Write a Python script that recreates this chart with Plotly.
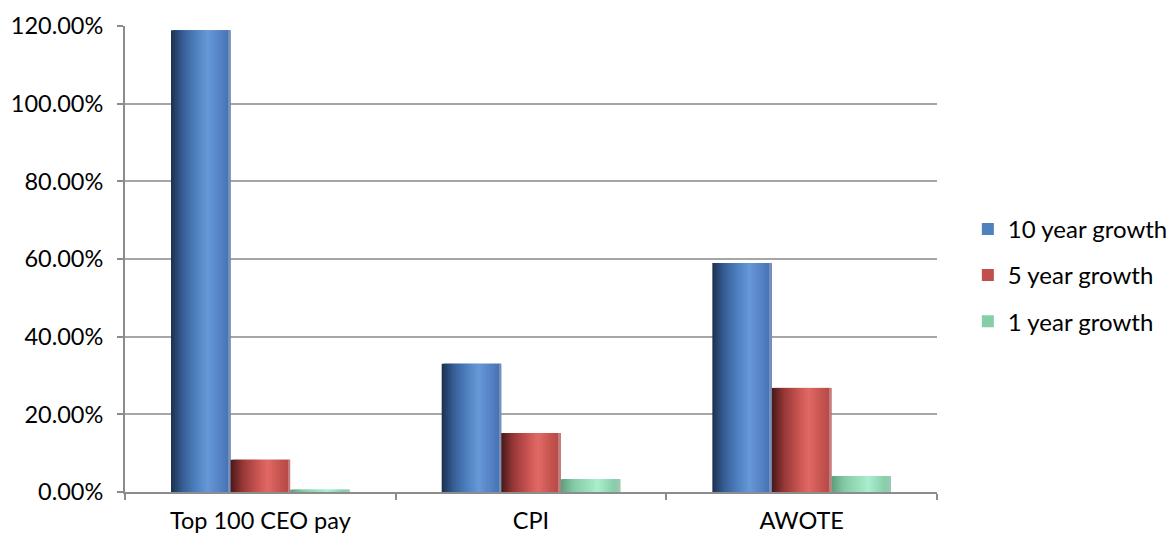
import plotly.graph_objects as go

categories = ["Top 100 CEO pay", "CPI", "AWOTE"]
series_names = ["10 year growth", "5 year growth", "1 year growth"]
growth_10yr = [118.9, 33.0, 59.0]
growth_5yr = [8.3, 15.2, 26.8]
growth_1yr = [0.6, 3.3, 4.1]
y_ticks = [0, 20, 40, 60, 80, 100, 120]
y_tick_labels = ["0.00%", "20.00%", "40.00%", "60.00%", "80.00%", "100.00%", "120.00%"]

series_values = [growth_10yr, growth_5yr, growth_1yr]
legend_colors = ["#4f81bd", "#c0504d", "#86cfa6"]
# gradient stops: (position, rgb) for cylinder-like shading
gradients = [
    [(0.0, (28, 48, 78)), (0.2, (55, 95, 150)), (0.45, (82, 132, 196)), (0.62, (103, 152, 215)),
     (0.85, (82, 128, 192)), (0.95, (72, 116, 182)), (1.0, (140, 158, 188))],
    [(0.0, (72, 24, 24)), (0.2, (150, 55, 55)), (0.45, (200, 85, 82)), (0.62, (225, 105, 100)),
     (0.85, (195, 82, 78)), (0.95, (185, 75, 72)), (1.0, (200, 150, 150))],
    [(0.0, (95, 155, 125)), (0.2, (130, 200, 165)), (0.62, (170, 238, 205)),
     (0.9, (135, 205, 170)), (1.0, (160, 200, 180))],
]


def interp(stops, t):
    for (p0, c0), (p1, c1) in zip(stops, stops[1:]):
        if p0 <= t <= p1:
            f = (t - p0) / (p1 - p0) if p1 > p0 else 0
            c = [round(a + (b - a) * f) for a, b in zip(c0, c1)]
            return "rgb(%d,%d,%d)" % tuple(c)
    return "rgb(%d,%d,%d)" % stops[-1][1]


fig = go.Figure()
group_width = 0.66
bar_w = group_width / 3
n_slices = 30
slice_w = bar_w / n_slices

for i, (name, vals) in enumerate(zip(series_names, series_values)):
    base_off = -group_width / 2 + i * bar_w
    bar_end = base_off + bar_w
    for j in range(n_slices):
        t = (j + 0.5) / n_slices
        off = base_off + j * slice_w
        w = min(slice_w * 2.5, bar_end - off)
        fig.add_trace(go.Bar(
            x=categories, y=vals,
            offset=off, width=w,
            marker=dict(color=interp(gradients[i], t), line=dict(width=0)),
            showlegend=False, hoverinfo="skip", legendgroup=name,
        ))
    # legend entry
    fig.add_trace(go.Bar(
        x=categories, y=[None] * len(categories), name=name,
        marker=dict(color=legend_colors[i], line=dict(width=0)),
        legendgroup=name, showlegend=True,
    ))

font_family = "Lato, Carlito, Calibri, sans-serif"
fig.update_layout(
    width=1176, height=537,
    margin=dict(l=125, r=239, t=26, b=45, autoexpand=False),
    barmode="overlay",
    plot_bgcolor="white", paper_bgcolor="white",
    font=dict(family=font_family, size=23.5, color="#000000"),
    legend=dict(
        x=1.038, y=0.465, xanchor="left", yanchor="middle",
        font=dict(family=font_family, size=24, color="#000000"),
        tracegroupgap=12, itemwidth=30,
        bgcolor="rgba(0,0,0,0)",
    ),
)
fig.update_xaxes(
    type="category", showgrid=False,
    showline=True, linecolor="#8c8c8c", linewidth=2,
    ticks="outside", ticklen=6, tickcolor="#8c8c8c", tickwidth=2,
    tickson="boundaries", ticklabelstandoff=7,
    tickfont=dict(family=font_family, size=23.5),
    range=[-0.5, 2.5],
)
fig.update_yaxes(
    range=[0, 120], tickvals=y_ticks, ticktext=y_tick_labels,
    showgrid=True, gridcolor="#a6a6a6", gridwidth=2,
    showline=True, linecolor="#8c8c8c", linewidth=2,
    ticks="outside", ticklen=6, tickcolor="#8c8c8c", tickwidth=2,
    ticklabelstandoff=9,
    tickfont=dict(family=font_family, size=23.5),
    zeroline=False,
)

fig.write_html("out.html")
